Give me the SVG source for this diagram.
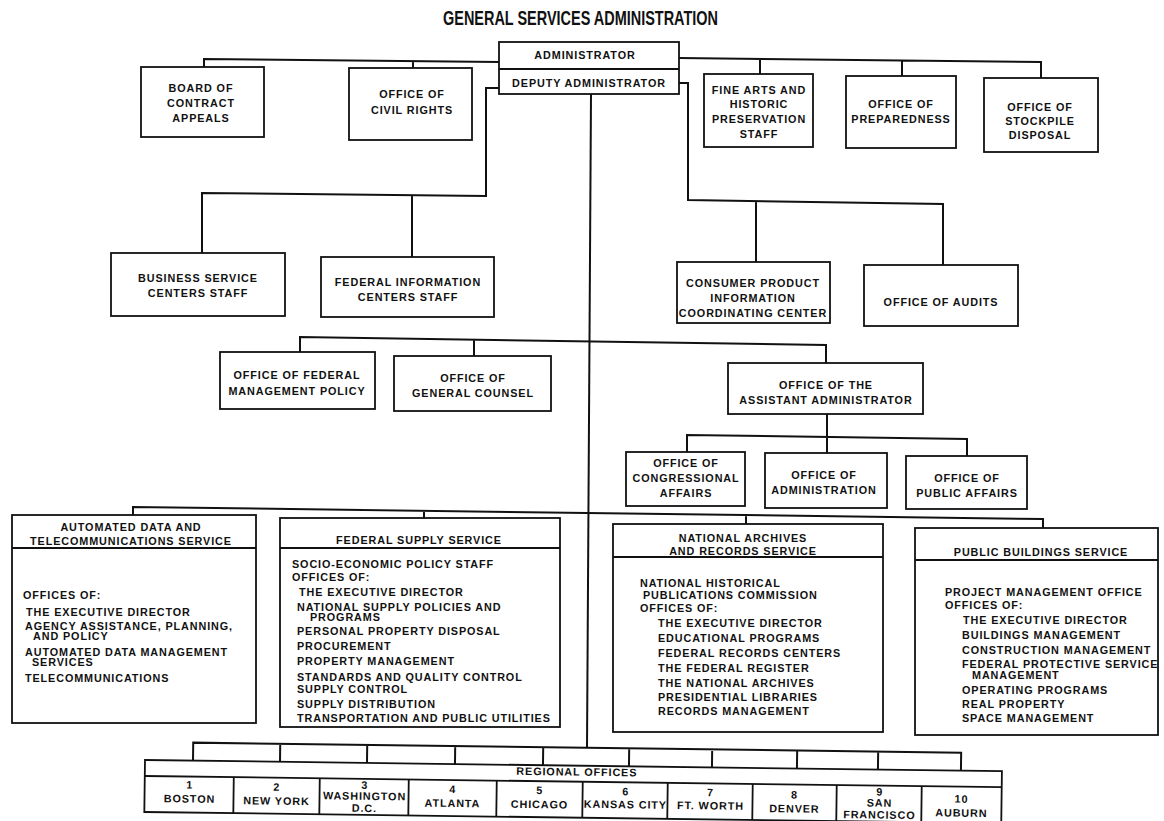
<svg xmlns="http://www.w3.org/2000/svg" width="1164" height="821" viewBox="0 0 1164 821">
<style>
.box{fill:#fff;stroke:#111;stroke-width:1.8}
.ln{fill:none;stroke:#111;stroke-width:2}
text{font-family:"Liberation Sans",Arial,sans-serif;font-weight:bold;font-size:10.8px;letter-spacing:0.9px;fill:#111}
.c{text-anchor:middle}
.title{font-size:20px;letter-spacing:0}
</style>
<rect width="1164" height="821" fill="#fff"/>
<text class="title c" x="580.5" y="25" textLength="275" lengthAdjust="spacingAndGlyphs">GENERAL SERVICES ADMINISTRATION</text>

<g id="connectors" class="ln">
<path d="M499,62 L204,59 L204,67 M413,61 L413,68"/>
<path d="M679,58 L1041,62 L1041,78 M760,59 L760,74 M902,60.5 L902,76"/>
<path d="M499,88 L486,88 L486,196 L202,193 L202,253 M412,195 L412,257"/>
<path d="M679,83 L688,83 L688,200 L943,204 L943,265 M756,201 L756,262"/>
<path d="M591,94 L587,748"/>
<path d="M300,352 L300,337 L826,345 L826,363 M474,339.5 L474,356"/>
<path d="M827,414 L827,453 M687,452 L687,435 L967,439 L967,456"/>
<path d="M133,515 L133,507 L1043,519 L1043,528 M424,511 L424,518 M746,515 L746,524"/>
<g transform="rotate(0.75 145 760)">
<path d="M193,760 L193,742 L961,742 L961,760 M280,742 L280,760 M367,742 L367,760 M455,742 L455,760 M543,742 L543,760 M629,742 L629,760 M712,742 L712,760 M797,742 L797,760 M878,742 L878,760"/>
</g>
</g>

<g id="administrator">
<rect class="box" x="499" y="42" width="180" height="52"/>
<line x1="499" y1="69" x2="679" y2="69" stroke="#111" stroke-width="1.8"/>
<text class="c" x="585" y="59">ADMINISTRATOR</text>
<text class="c" x="589" y="87">DEPUTY ADMINISTRATOR</text>
</g>

<g id="board-contract-appeals">
<rect class="box" x="141" y="67" width="123" height="70"/>
<text class="c" x="201" y="92">BOARD OF</text>
<text class="c" x="201" y="107">CONTRACT</text>
<text class="c" x="201" y="122">APPEALS</text>
</g>

<g id="civil-rights">
<rect class="box" x="349" y="68" width="123" height="72"/>
<text class="c" x="412" y="98">OFFICE OF</text>
<text class="c" x="412" y="114">CIVIL RIGHTS</text>
</g>

<g id="fine-arts">
<rect class="box" x="704" y="74" width="109" height="73"/>
<text class="c" x="759" y="94">FINE ARTS AND</text>
<text class="c" x="759" y="108">HISTORIC</text>
<text class="c" x="759" y="123">PRESERVATION</text>
<text class="c" x="759" y="138">STAFF</text>
</g>

<g id="preparedness">
<rect class="box" x="846" y="76" width="110" height="72"/>
<text class="c" x="901" y="108">OFFICE OF</text>
<text class="c" x="901" y="123">PREPAREDNESS</text>
</g>

<g id="stockpile">
<rect class="box" x="984" y="78" width="114" height="74"/>
<text class="c" x="1040" y="111">OFFICE OF</text>
<text class="c" x="1040" y="125">STOCKPILE</text>
<text class="c" x="1040" y="139">DISPOSAL</text>
</g>

<g id="business-service">
<rect class="box" x="111" y="253" width="174" height="63"/>
<text class="c" x="198" y="282">BUSINESS SERVICE</text>
<text class="c" x="198" y="297">CENTERS STAFF</text>
</g>

<g id="federal-information">
<rect class="box" x="321" y="257" width="173" height="60"/>
<text class="c" x="408" y="286">FEDERAL INFORMATION</text>
<text class="c" x="408" y="301">CENTERS STAFF</text>
</g>

<g id="consumer-product">
<rect class="box" x="677" y="262" width="153" height="61"/>
<text class="c" x="753" y="287">CONSUMER PRODUCT</text>
<text class="c" x="753" y="302">INFORMATION</text>
<text class="c" x="753" y="317">COORDINATING CENTER</text>
</g>

<g id="audits">
<rect class="box" x="864" y="265" width="154" height="61"/>
<text class="c" x="941" y="306">OFFICE OF AUDITS</text>
</g>

<g id="federal-management-policy">
<rect class="box" x="220" y="352" width="155" height="57"/>
<text class="c" x="297" y="379">OFFICE OF FEDERAL</text>
<text class="c" x="297" y="395">MANAGEMENT POLICY</text>
</g>

<g id="general-counsel">
<rect class="box" x="394" y="356" width="157" height="55"/>
<text class="c" x="473" y="382">OFFICE OF</text>
<text class="c" x="473" y="397">GENERAL COUNSEL</text>
</g>

<g id="assistant-administrator">
<rect class="box" x="728" y="363" width="195" height="51"/>
<text class="c" x="826" y="389">OFFICE OF THE</text>
<text class="c" x="826" y="404">ASSISTANT ADMINISTRATOR</text>
</g>

<g id="congressional-affairs">
<rect class="box" x="626" y="452" width="119" height="54"/>
<text class="c" x="686" y="467">OFFICE OF</text>
<text class="c" x="686" y="482">CONGRESSIONAL</text>
<text class="c" x="686" y="497">AFFAIRS</text>
</g>

<g id="administration">
<rect class="box" x="765" y="453" width="122" height="55"/>
<text class="c" x="824" y="479">OFFICE OF</text>
<text class="c" x="824" y="494">ADMINISTRATION</text>
</g>

<g id="public-affairs">
<rect class="box" x="906" y="456" width="121" height="53"/>
<text class="c" x="967" y="482">OFFICE OF</text>
<text class="c" x="967" y="497">PUBLIC AFFAIRS</text>
</g>

<g id="adts">
<rect class="box" x="12" y="515" width="244" height="208"/>
<line x1="12" y1="548" x2="256" y2="548" stroke="#111" stroke-width="1.8"/>
<text class="c" x="131" y="531">AUTOMATED DATA AND</text>
<text class="c" x="131" y="545">TELECOMMUNICATIONS SERVICE</text>
<text x="23" y="599">OFFICES OF:</text>
<text x="26" y="616">THE EXECUTIVE DIRECTOR</text>
<text x="25" y="630">AGENCY ASSISTANCE, PLANNING,</text>
<text x="33" y="640">AND POLICY</text>
<text x="25" y="656">AUTOMATED DATA MANAGEMENT</text>
<text x="32" y="666">SERVICES</text>
<text x="25" y="682">TELECOMMUNICATIONS</text>
</g>

<g id="fss">
<rect class="box" x="280" y="518" width="280" height="209"/>
<line x1="280" y1="548" x2="560" y2="548" stroke="#111" stroke-width="1.8"/>
<text class="c" x="419" y="544">FEDERAL SUPPLY SERVICE</text>
<text x="292" y="568">SOCIO-ECONOMIC POLICY STAFF</text>
<text x="292" y="581">OFFICES OF:</text>
<text x="299" y="596">THE EXECUTIVE DIRECTOR</text>
<text x="297" y="611">NATIONAL SUPPLY POLICIES AND</text>
<text x="310" y="621">PROGRAMS</text>
<text x="297" y="635">PERSONAL PROPERTY DISPOSAL</text>
<text x="297" y="650">PROCUREMENT</text>
<text x="297" y="665">PROPERTY MANAGEMENT</text>
<text x="297" y="681">STANDARDS AND QUALITY CONTROL</text>
<text x="297" y="693">SUPPLY CONTROL</text>
<text x="297" y="708">SUPPLY DISTRIBUTION</text>
<text x="297" y="722">TRANSPORTATION AND PUBLIC UTILITIES</text>
</g>

<g id="nars">
<rect class="box" x="613" y="524" width="270" height="208"/>
<line x1="613" y1="557" x2="883" y2="557" stroke="#111" stroke-width="1.8"/>
<text class="c" x="743" y="542">NATIONAL ARCHIVES</text>
<text class="c" x="743" y="555">AND RECORDS SERVICE</text>
<text x="640" y="587">NATIONAL HISTORICAL</text>
<text x="643" y="599">PUBLICATIONS COMMISSION</text>
<text x="640" y="612">OFFICES OF:</text>
<text x="658" y="627">THE EXECUTIVE DIRECTOR</text>
<text x="658" y="642">EDUCATIONAL PROGRAMS</text>
<text x="658" y="657">FEDERAL RECORDS CENTERS</text>
<text x="658" y="672">THE FEDERAL REGISTER</text>
<text x="658" y="687">THE NATIONAL ARCHIVES</text>
<text x="658" y="701">PRESIDENTIAL LIBRARIES</text>
<text x="658" y="715">RECORDS MANAGEMENT</text>
</g>

<g id="pbs">
<rect class="box" x="915" y="528" width="243" height="207"/>
<line x1="915" y1="560" x2="1158" y2="560" stroke="#111" stroke-width="1.8"/>
<text class="c" x="1041" y="556">PUBLIC BUILDINGS SERVICE</text>
<text x="945" y="596">PROJECT MANAGEMENT OFFICE</text>
<text x="945" y="609">OFFICES OF:</text>
<text x="963" y="624">THE EXECUTIVE DIRECTOR</text>
<text x="962" y="639">BUILDINGS MANAGEMENT</text>
<text x="962" y="654">CONSTRUCTION MANAGEMENT</text>
<text x="962" y="668">FEDERAL PROTECTIVE SERVICE</text>
<text x="972" y="679">MANAGEMENT</text>
<text x="962" y="694">OPERATING PROGRAMS</text>
<text x="962" y="708">REAL PROPERTY</text>
<text x="962" y="722">SPACE MANAGEMENT</text>
</g>

<g id="regional-offices" transform="rotate(0.75 145 760)">
<rect class="box" x="145" y="760" width="857" height="52"/>
<line x1="145" y1="776" x2="1002" y2="776" stroke="#111" stroke-width="1.8"/>
<path d="M234,776 V812 M320,776 V812 M409,776 V812 M497,776 V812 M583,776 V812 M668,776 V812 M753,776 V812 M837,776 V812 M922,776 V812" stroke="#111" stroke-width="1.8" fill="none"/>
<text class="c" x="577" y="770">REGIONAL OFFICES</text>
<text class="c" x="190" y="788">1</text>
<text class="c" x="190" y="802">BOSTON</text>
<text class="c" x="277" y="789">2</text>
<text class="c" x="277" y="803">NEW YORK</text>
<text class="c" x="365" y="786">3</text>
<text class="c" x="365" y="797">WASHINGTON</text>
<text class="c" x="365" y="809">D.C.</text>
<text class="c" x="453" y="789">4</text>
<text class="c" x="453" y="803">ATLANTA</text>
<text class="c" x="540" y="789">5</text>
<text class="c" x="540" y="803">CHICAGO</text>
<text class="c" x="626" y="789">6</text>
<text class="c" x="626" y="802">KANSAS CITY</text>
<text class="c" x="711" y="789">7</text>
<text class="c" x="711" y="802">FT. WORTH</text>
<text class="c" x="795" y="790">8</text>
<text class="c" x="795" y="804">DENVER</text>
<text class="c" x="880" y="786">9</text>
<text class="c" x="880" y="797">SAN</text>
<text class="c" x="880" y="809">FRANCISCO</text>
<text class="c" x="962" y="792">10</text>
<text class="c" x="962" y="806">AUBURN</text>
</g>
</svg>
